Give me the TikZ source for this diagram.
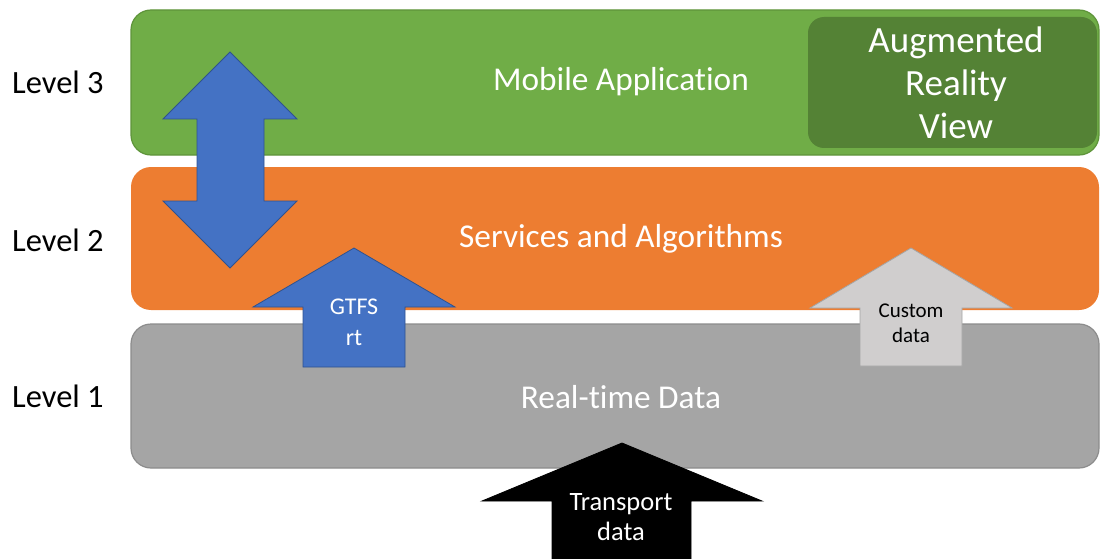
\documentclass[tikz,border=0pt]{standalone}
\usepackage{fontspec}
\setmainfont[Ligatures=NoCommon]{Carlito}
\begin{document}
\begin{tikzpicture}[x=1pt,y=-1pt,
  layer/.style={rounded corners=20pt,line width=1.2pt},
  blockarrow/.style={line width=0.8pt,line join=miter},
  lvl/.style={anchor=west,inner sep=0pt,font=\fontsize{32.5}{38}\selectfont},
  big/.style={text=white,inner sep=0pt,font=\fontsize{33.3}{40}\selectfont},
  small/.style={align=center,inner sep=0pt}]
\definecolor{lgreen}{HTML}{70AD47}
\definecolor{lgreenb}{HTML}{5E943A}
\definecolor{dgreen}{HTML}{548235}
\definecolor{lorange}{HTML}{ED7D31}
\definecolor{lgray}{HTML}{A5A5A5}
\definecolor{lgrayb}{HTML}{8C8C8C}
\definecolor{lblue}{HTML}{4472C4}
\definecolor{lblueb}{HTML}{2F528F}
\definecolor{pgray}{HTML}{D0CECE}
\useasboundingbox (0,0) rectangle (1100,559);

% three levels
\fill[layer,fill=lgreen,draw=lgreenb] (131,10) rectangle (1099,155);
\fill[layer,fill=lorange] (131,167) rectangle (1099,310);
\fill[layer,fill=lgray,draw=lgrayb] (131,324) rectangle (1099,468);

% augmented reality panel
\fill[dgreen,rounded corners=16pt] (808,17) rectangle (1097,148);
\node[big,font=\fontsize{37}{43}\selectfont,align=center] (ar) at (956,83)
  {Augmented\\Reality\\View};

% level captions
\node[lvl] (l3) at (12,82) {Level 3};
\node[lvl] (l2) at (12,240) {Level 2};
\node[lvl] (l1) at (12,396) {Level 1};

% layer titles
\node[big] (mob) at (621,82) {Mobile Application};
\node[big] (srv) at (621,239) {Services and Algorithms};
\node[big] (rtd) at (621,397) {Real-time Data};

% two-way arrow between level 3 and level 2
\filldraw[blockarrow,fill=lblue,draw=lblueb]
  (230,52) -- (297,119) -- (264,119) -- (264,201) -- (297,201) -- (230,268)
  -- (163,201) -- (197,201) -- (197,119) -- (163,119) -- cycle;

% GTFS rt arrow
\filldraw[blockarrow,fill=lblue,draw=lblueb]
  (354,248) -- (455,307) -- (405,307) -- (405,367) -- (303,367) -- (303,307)
  -- (253,307) -- cycle;
\node[small,text=white,font=\fontsize{24}{31}\selectfont] (gtfs) at (354,322) {GTFS\\rt};

% custom data arrow
\filldraw[blockarrow,fill=pgray,draw=lgray]
  (911,248) -- (1012,308) -- (962,308) -- (962,366) -- (860,366) -- (860,308)
  -- (810,308) -- cycle;
\node[small,text=black,font=\fontsize{21}{25}\selectfont] (cust) at (911,323) {Custom\\data};

% transport data arrow
\filldraw[blockarrow,fill=black,draw=black]
  (622,443) -- (762,501) -- (691,501) -- (691,562) -- (552,562) -- (552,501)
  -- (482,501) -- cycle;
\node[small,text=white,font=\fontsize{26.5}{30}\selectfont] (trans) at (621,517) {Transport\\data};
\end{tikzpicture}
\end{document}
